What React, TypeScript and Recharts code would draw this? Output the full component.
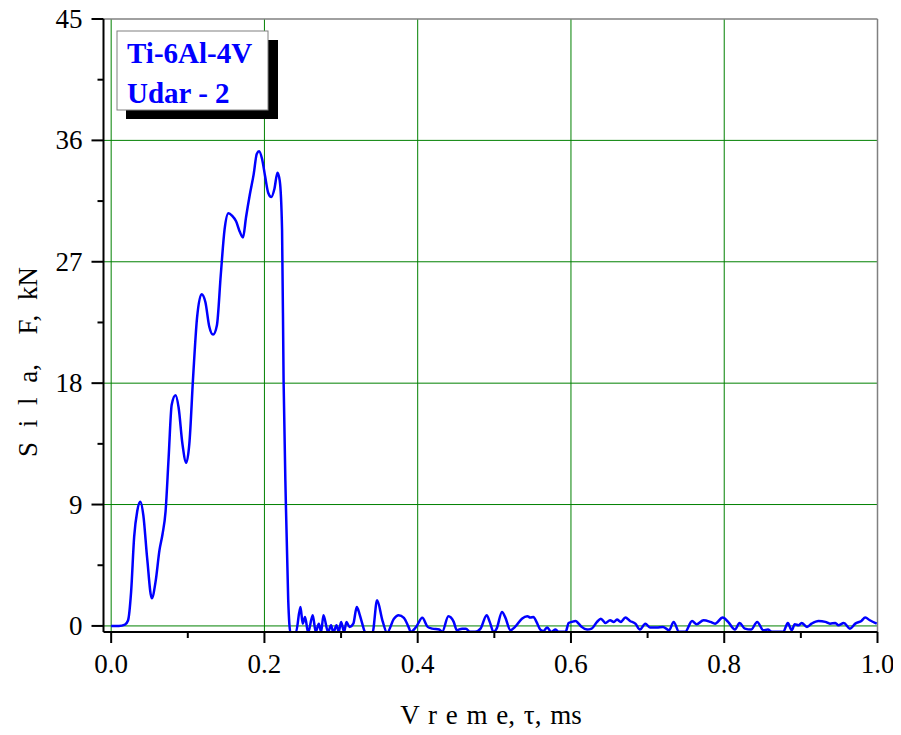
import { LineChart, Line, XAxis, YAxis, ReferenceLine } from 'recharts';

// Ti-6Al-4V, udar 2: sila F (kN) u funkciji vremena t (ms)
const tMs = [
  0.0, 0.01, 0.018, 0.022, 0.026, 0.03, 0.034, 0.038, 0.042, 0.047, 0.053, 0.058, 0.063, 0.067,
  0.071, 0.075, 0.079, 0.084, 0.088, 0.093, 0.098, 0.102, 0.107, 0.112, 0.118, 0.123, 0.128,
  0.133, 0.138, 0.143, 0.148, 0.153, 0.158, 0.163, 0.168, 0.172, 0.176, 0.181, 0.186, 0.19,
  0.193, 0.197, 0.201, 0.205, 0.209, 0.213, 0.217, 0.22, 0.223, 0.225, 0.228, 0.231, 0.234,
  0.238, 0.241, 0.247, 0.25, 0.253, 0.257, 0.263, 0.267, 0.271, 0.274, 0.277, 0.283, 0.287,
  0.29, 0.294, 0.297, 0.3, 0.304, 0.307, 0.311, 0.316, 0.3205, 0.324, 0.327, 0.332, 0.341,
  0.347, 0.354, 0.36, 0.369, 0.375, 0.382, 0.388, 0.391, 0.398, 0.406, 0.413, 0.419, 0.428,
  0.432, 0.44, 0.447, 0.451, 0.458, 0.463, 0.468, 0.475, 0.482, 0.49, 0.494, 0.499, 0.503,
  0.51, 0.514, 0.521, 0.527, 0.536, 0.543, 0.547, 0.551, 0.555, 0.56, 0.564, 0.569, 0.574,
  0.58, 0.584, 0.593, 0.597, 0.601, 0.606, 0.61, 0.614, 0.621, 0.627, 0.634, 0.639, 0.645,
  0.651, 0.656, 0.66, 0.665, 0.671, 0.677, 0.684, 0.69, 0.697, 0.703, 0.712, 0.72, 0.728,
  0.734, 0.741, 0.749, 0.758, 0.764, 0.773, 0.782, 0.788, 0.798, 0.805, 0.814, 0.82, 0.827,
  0.835, 0.843, 0.851, 0.857, 0.862, 0.877, 0.883, 0.888, 0.892, 0.897, 0.901, 0.908, 0.914,
  0.923, 0.932, 0.938, 0.945, 0.949, 0.956, 0.964, 0.971, 0.979, 0.984, 0.99, 0.999,
];

const forceKN = [
  0.0, 0.0, 0.1, 0.4, 2.5, 6.6, 8.5, 9.2, 8.2, 5.0, 2.05, 3.3, 5.6, 6.8,
  8.5, 12.5, 16.4, 17.1, 16.2, 13.5, 12.1, 13.5, 18.5, 22.8, 24.6, 24.0, 22.2,
  21.6, 22.3, 26.0, 29.4, 30.6, 30.4, 30.0, 29.2, 28.8, 30.3, 32.0, 33.5, 35.0,
  35.2, 34.6, 33.3, 32.1, 31.8, 32.4, 33.6, 33.0, 29.4, 18.2, 9.0, 2.0, -0.5,
  -0.5, -0.5, 1.4, 0.17, 0.67, -0.5, 0.8, -0.44, 0.17, -0.44, 0.8, -0.44, 0.05,
  -0.5, 0.05, -0.44, 0.3, -0.44, 0.3, -0.07, 0.17, 1.4, 0.9, 0.3, -0.5, -0.5,
  1.9, 0.4, -0.5, 0.54, 0.8, 0.6, -0.07, -0.44, -0.07, 0.6, -0.07, -0.2, -0.27,
  -0.44, 0.72, 0.3, -0.32, -0.2, -0.2, -0.44, -0.44, -0.2, 0.8, 0.3, -0.44, -0.2,
  1.04, 0.67, -0.32, -0.07, 0.54, 0.72, 0.62, 0.67, 0.3, -0.27, -0.37, -0.12, -0.44,
  -0.27, -0.44, -0.44, 0.22, 0.3, 0.37, 0.17, -0.07, -0.27, -0.2, 0.3, 0.54, 0.22,
  0.42, 0.3, 0.47, 0.3, 0.62, 0.37, 0.17, -0.27, 0.17, -0.12, -0.12, -0.07, -0.32,
  0.3, -0.44, -0.44, 0.37, 0.12, 0.42, 0.3, 0.17, 0.62, 0.3, -0.27, 0.22, -0.2,
  -0.27, 0.3, -0.32, -0.27, -0.44, -0.44, 0.22, -0.32, 0.12, 0.05, 0.22, -0.07, 0.17,
  0.37, 0.3, 0.17, 0.22, 0.05, 0.22, -0.2, 0.17, 0.37, 0.62, 0.42, 0.17,
];

const xTicks = [0, 0.1, 0.2, 0.3, 0.4, 0.5, 0.6, 0.7, 0.8, 0.9, 1.0];
const yTicks = [0, 4.5, 9, 13.5, 18, 22.5, 27, 31.5, 36, 40.5, 45];
const xGrid = [0, 0.2, 0.4, 0.6, 0.8];
const yGrid = [0, 9, 18, 27, 36];
const legendLines = ['Ti-6Al-4V', 'Udar - 2'];

const FONT = '"Liberation Serif", "Times New Roman", serif';

const data = tMs.map((t, i) => ({ t, f: forceKN[i] }));

const XTick = (props: any) => {
  const { x, y, payload } = props;
  const v = payload.value as number;
  const major = Math.round(v * 10) % 2 === 0;
  return (
    <g>
      <line x1={x} y1={y} x2={x} y2={y + (major ? 11 : 6)} stroke="#000" strokeWidth={2} />
      {major && (
        <text x={x} y={y + 41} textAnchor="middle" fontSize={27} fontFamily={FONT} fill="#000">
          {v.toFixed(1)}
        </text>
      )}
    </g>
  );
};

const YTick = (props: any) => {
  const { x, y, payload } = props;
  const v = payload.value as number;
  const major = v % 9 === 0;
  return (
    <g>
      <line x1={x - (major ? 12 : 6)} y1={y} x2={x} y2={y} stroke="#000" strokeWidth={2} />
      {major && (
        <text x={x - 21} y={y + 9} textAnchor="end" fontSize={27} fontFamily={FONT} fill="#000">
          {v}
        </text>
      )}
    </g>
  );
};

export default function App() {
  // wrapper pulled up over the body margin so the top label has room
  return (
    <div style={{ position: 'relative', top: -8, width: 893, height: 735 }}>
      <LineChart
        width={893}
        height={735}
        data={data}
        margin={{ top: 19, right: 23.5, left: 15.5, bottom: 3 }}
      >
        {xGrid.map((v) => (
          <ReferenceLine key={'gx' + v} x={v} stroke="#008000" strokeWidth={1} />
        ))}
        {yGrid.map((v) => (
          <ReferenceLine key={'gy' + v} y={v} stroke="#008000" strokeWidth={1} />
        ))}
        <ReferenceLine x={1} stroke="#808080" strokeWidth={1.5} />
        <ReferenceLine y={45} stroke="#808080" strokeWidth={1.5} />
        <XAxis
          type="number"
          dataKey="t"
          domain={[-0.01, 1]}
          ticks={xTicks}
          interval={0}
          allowDataOverflow
          height={100}
          tickSize={0}
          tickMargin={0}
          tick={<XTick />}
          axisLine={{ stroke: '#000', strokeWidth: 2 }}
        />
        <YAxis
          type="number"
          domain={[-0.45, 45]}
          ticks={yTicks}
          interval={0}
          allowDataOverflow
          width={80}
          tickSize={0}
          tickMargin={0}
          tick={<YTick />}
          axisLine={{ stroke: '#000', strokeWidth: 2 }}
        />
        <Line
          type="monotone"
          dataKey="f"
          stroke="#0000ff"
          strokeWidth={2.5}
          dot={false}
          isAnimationActive={false}
        />
      </LineChart>
      <svg
        width={893}
        height={735}
        style={{ position: 'absolute', left: 0, top: 0, pointerEvents: 'none' }}
      >
        <text
          x={483}
          y={724}
          textAnchor="middle"
          fontSize={27}
          fontFamily={FONT}
          wordSpacing={2}
          style={{ whiteSpace: 'pre' }}
        >
          V r e m e, τ, ms
        </text>
        <text
          transform="translate(29, 362) rotate(-90)"
          textAnchor="middle"
          fontSize={27}
          fontFamily={FONT}
          wordSpacing={8}
          style={{ whiteSpace: 'pre' }}
        >
          S i l a,  F, kN
        </text>
        <rect x={118} y={40} width={152} height={79} fill="#000" />
        <rect x={109} y={31} width={151} height={79} fill="#fff" stroke="#808080" strokeWidth={1} />
        {legendLines.map((s, i) => (
          <text
            key={s}
            x={119}
            y={63 + i * 40}
            fontSize={29}
            fontWeight="bold"
            fontFamily={FONT}
            fill="#0000ff"
          >
            {s}
          </text>
        ))}
      </svg>
    </div>
  );
}
